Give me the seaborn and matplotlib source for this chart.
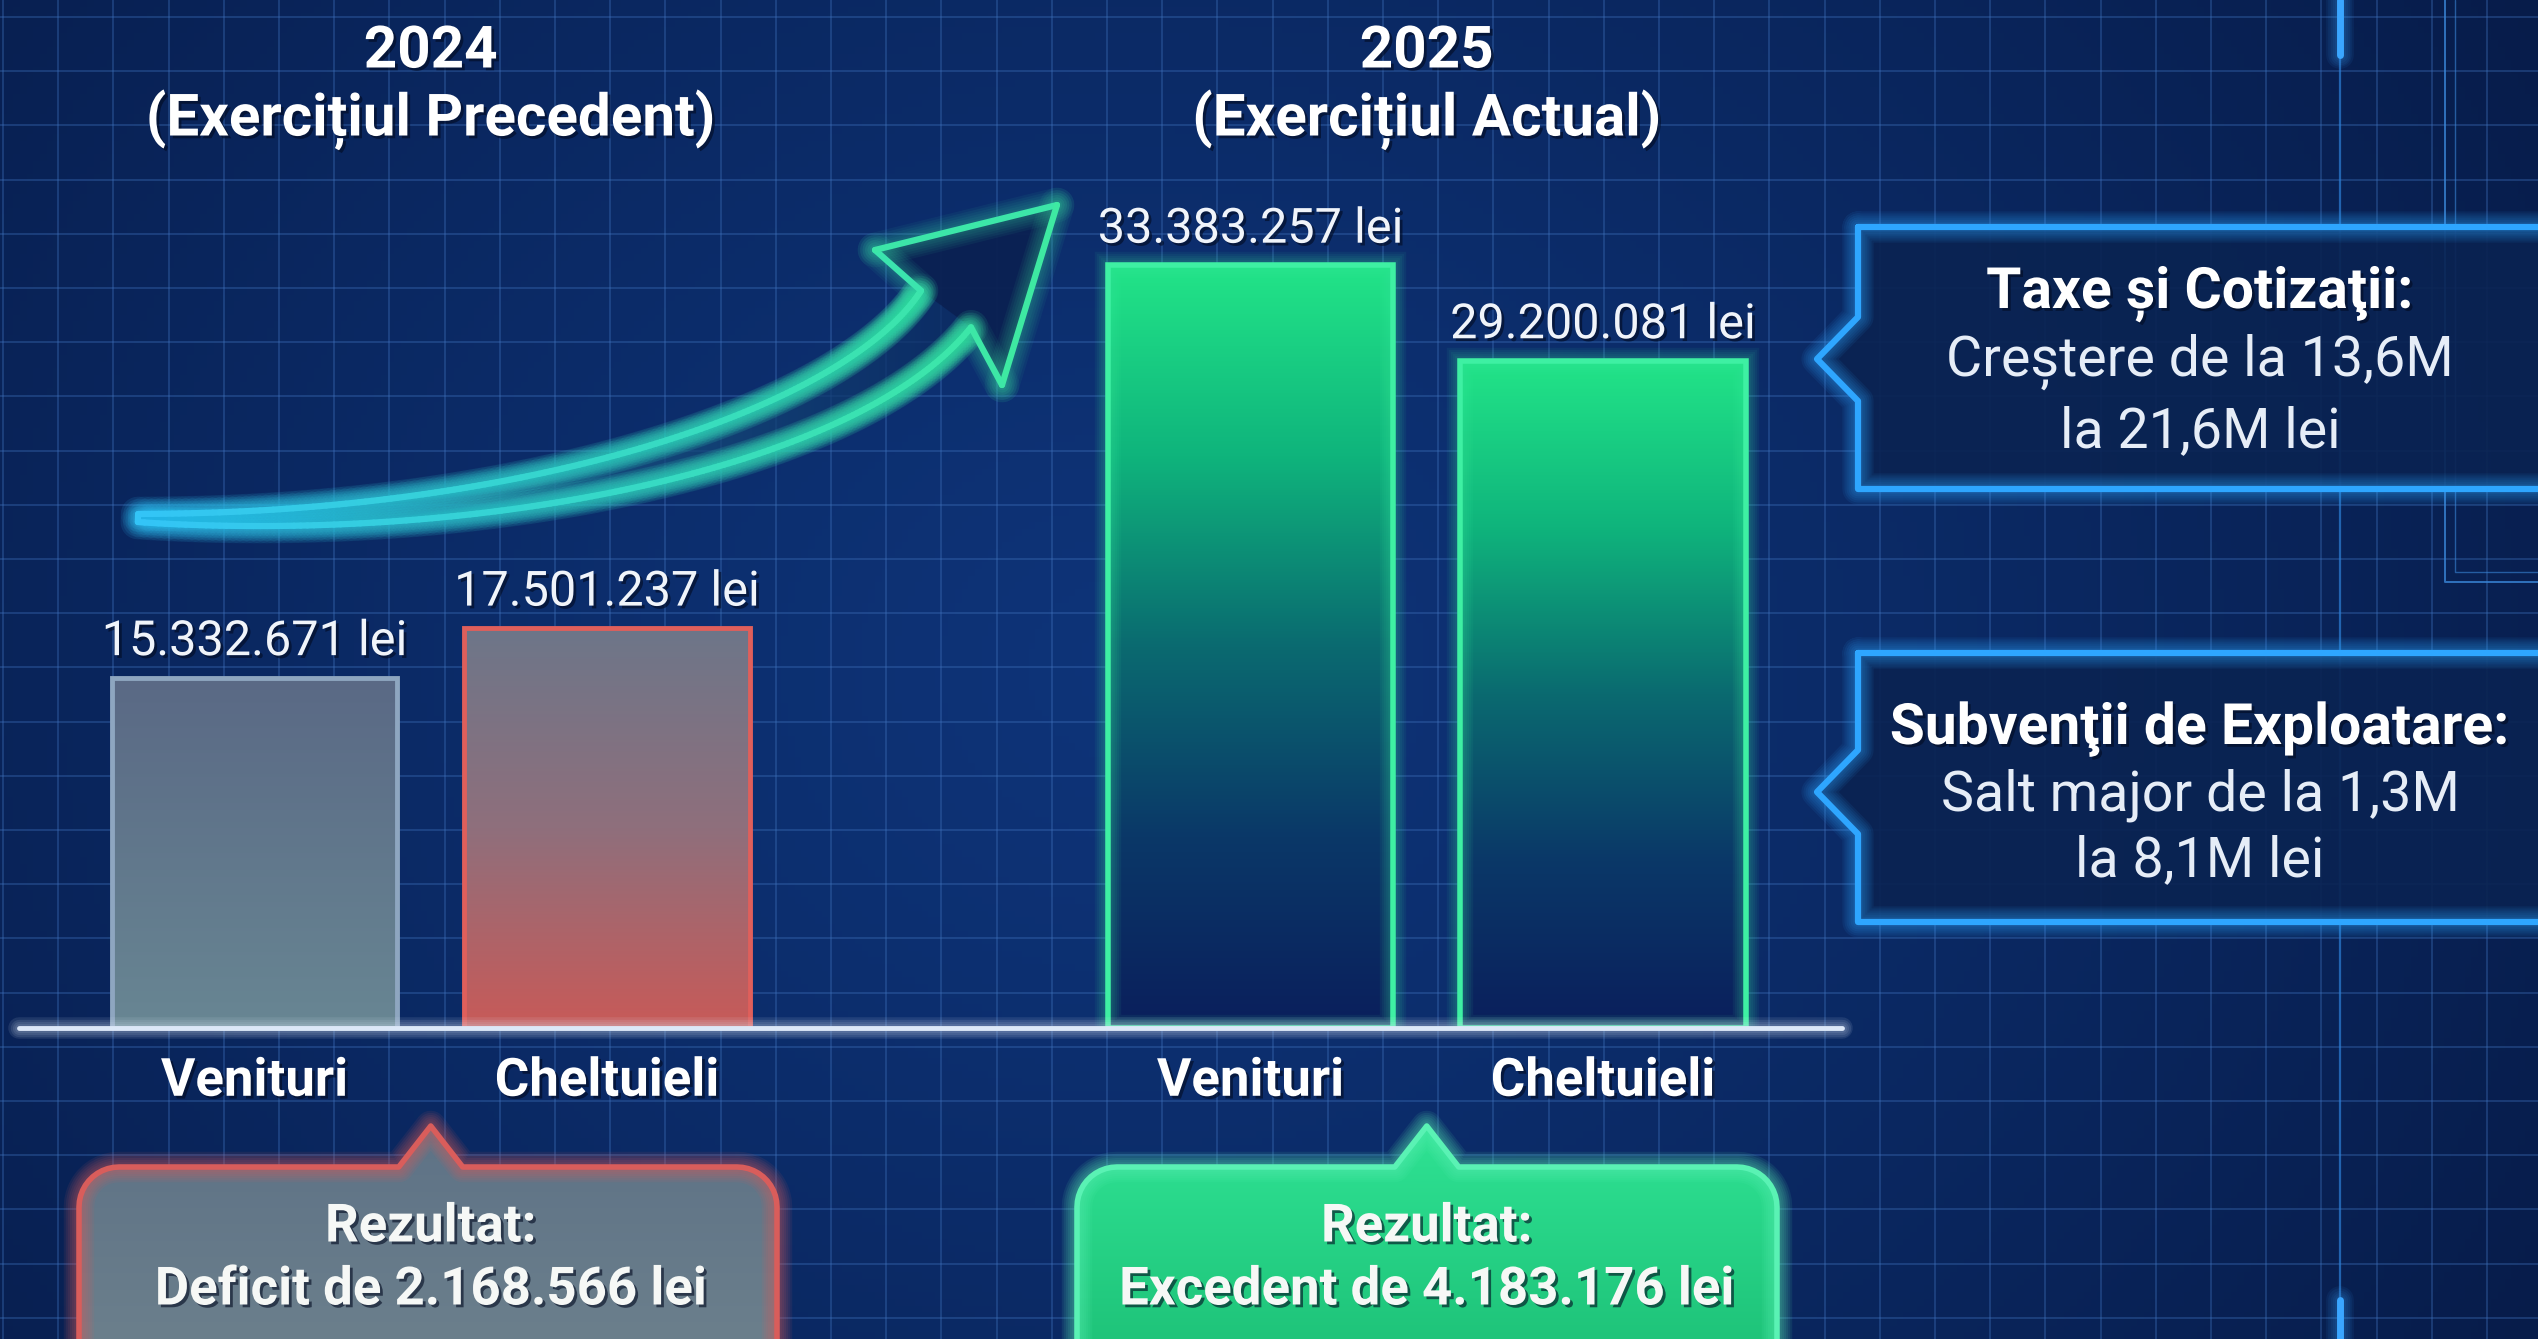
import numpy as np
import matplotlib
matplotlib.use("Agg")
import matplotlib.pyplot as plt
import matplotlib.patheffects as pe
from matplotlib.colors import LinearSegmentedColormap, to_rgb
from matplotlib.patches import Polygon, Rectangle
from matplotlib.collections import LineCollection
import seaborn as sns

# ---- date ----
categorii = ["Venituri", "Cheltuieli"]
ani = ["2024", "2025"]
exercitii = ["(Exercițiul Precedent)", "(Exercițiul Actual)"]
venituri = [15332671, 33383257]
cheltuieli = [17501237, 29200081]
caseta_titluri = ["Taxe și Cotizaţii:", "Subvenţii de Exploatare:"]
caseta_randuri = [["Creștere de la 13,6M", "la 21,6M lei"],
                  ["Salt major de la 1,3M", "la 8,1M lei"]]

# ---- layout (pixels) ----
W, H = 2538, 1339
UNIT = 352.5                 # distance between the two bars of a year
GROUP_X0 = [254.5, 1250.5]   # centre of the first bar of each year
BASE_Y = 1028
PX_PER_LEU = 22.85e-6

sns.set_style("dark")
plt.rcParams["font.family"] = ["Roboto", "DejaVu Sans"]


def lei(v):
    return f"{v:,}".replace(",", ".") + " lei"


shadow = [pe.withSimplePatchShadow(offset=(2, -2), shadow_rgbFace="#020a20", alpha=0.6)]


def glow(ax, x, y, color, lw, layers=5, step=3.0, a=0.07, z=3):
    for i in range(layers, 0, -1):
        ax.plot(x, y, color=color, lw=lw + i * step, alpha=a,
                solid_capstyle="round", solid_joinstyle="round", zorder=z)
    ax.plot(x, y, color=color, lw=lw, solid_capstyle="round",
            solid_joinstyle="round", zorder=z)


def vgrad(ax, patch, colors, extent, z, alpha=1.0):
    # colors go bottom -> top
    cmap = LinearSegmentedColormap.from_list("g", colors)
    im = ax.imshow(np.linspace(0, 1, 256).reshape(-1, 1), cmap=cmap, extent=extent,
                   aspect="auto", zorder=z, alpha=alpha, origin="lower")
    im.set_clip_path(patch)


fig = plt.figure(figsize=(W / 100, H / 100), dpi=100)
bg = fig.add_axes([0, 0, 1, 1], zorder=0)

# background
yy, xx = np.mgrid[0:1:200j, 0:1:380j]
r = np.sqrt(((xx - 0.45) * 1.6) ** 2 + (yy - 0.5) ** 2)
r = r / r.max()
c_in, c_out = np.array(to_rgb("#0e3479")), np.array(to_rgb("#071c4a"))
bg.imshow(c_in + (c_out - c_in) * r[..., None] ** 1.2, extent=[0, W, H, 0],
          aspect="auto", zorder=0)
bg.vlines(np.arange(3, W, 55.2), 0, H, color="#3f72bd", lw=1.3, alpha=0.38, zorder=1)
bg.hlines(np.arange(17, H, 54.2), 0, W, color="#3f72bd", lw=1.3, alpha=0.38, zorder=1)

# decorative circuit lines on the right
bg.plot([2340, 2340], [0, H], color="#2d7fd6", lw=1.6, alpha=0.7, zorder=2)
glow(bg, [2340, 2340], [0, 55], "#3aa6ff", 5, z=2)
glow(bg, [2340, 2340], [1300, H], "#3aa6ff", 5, z=2)
bg.plot([2445, 2445, W], [0, 582, 582], color="#3a86d8", lw=1.4, alpha=0.8, zorder=2)
bg.plot([2455, 2455, W], [0, 572, 572], color="#3a86d8", lw=1.0, alpha=0.6, zorder=2)

# ---- growth arrow ----
P0, P1, P2, P3 = map(np.array, [(138, 518), (500, 530), (850, 440), (946, 309)])
s = np.linspace(0, 1, 160)[:, None]
B = (1 - s) ** 3 * P0 + 3 * (1 - s) ** 2 * s * P1 + 3 * (1 - s) * s ** 2 * P2 + s ** 3 * P3
dB = 3 * (1 - s) ** 2 * (P1 - P0) + 6 * (1 - s) * s * (P2 - P1) + 3 * s ** 2 * (P3 - P2)
t = dB / np.linalg.norm(dB, axis=1, keepdims=True)
nrm = np.column_stack([-t[:, 1], t[:, 0]])
w = (4 + 27 * s[:, 0] ** 0.9)[:, None]
lower, upper = B + w * nrm, B - w * nrm
head = np.array([(875, 250), (1057, 205), (1002, 385)])

band = Polygon(np.vstack([upper, lower[::-1]]), closed=True, fc="none", ec="none", zorder=3)
bg.add_patch(band)
cm_band = LinearSegmentedColormap.from_list("b", ["#2a86b8", "#1a5a86", "#0c2c62"])
im = bg.imshow(np.linspace(0, 1, 256).reshape(1, -1), cmap=cm_band,
               extent=[130, 960, 560, 280], aspect="auto", zorder=3, alpha=0.75)
im.set_clip_path(band)
bg.add_patch(Polygon(np.vstack([upper[-1], head, lower[-1]]), closed=True,
                     fc="#0a2152", alpha=0.95, ec="none", zorder=3))

outline = np.vstack([upper, head, lower[::-1], upper[:1]])
segs = np.stack([outline[:-1], outline[1:]], axis=1)
xm = (segs[:, 0, 0] + segs[:, 1, 0]) / 2
cm_edge = LinearSegmentedColormap.from_list("e", ["#33c4f7", "#36d8c8", "#3eeaa0"])
cols = cm_edge((xm - 138) / (1057 - 138))
for k in range(6, 0, -1):
    bg.add_collection(LineCollection(segs, colors=cols, linewidths=4 + k * 3.5, alpha=0.06,
                                     capstyle="round", joinstyle="round", zorder=4))
bg.add_collection(LineCollection(segs, colors=cols, linewidths=4.5, capstyle="round",
                                 joinstyle="round", zorder=4))

# ---- callout boxes (right) ----
for i, (top, bottom, tip_y) in enumerate([(227, 489, 359), (653, 922, 792)]):
    left, tip_x, half, right = 1858, 1817, 42, W + 30
    verts = [(left, top), (right, top), (right, bottom), (left, bottom),
             (left, tip_y + half), (tip_x, tip_y), (left, tip_y - half), (left, top)]
    bg.add_patch(Polygon(verts, closed=True, fc="#0a2352", alpha=0.92, ec="none", zorder=5))
    vx, vy = zip(*verts)
    glow(bg, vx, vy, "#2ea6ff", 4.5, layers=6, step=3, a=0.08, z=6)
    ys = [(294, 362, 432), (729, 795, 861)][i]
    bg.text(2200, ys[0], caseta_titluri[i], ha="center", va="center", fontsize=41,
            fontweight="bold", color="white", zorder=7, path_effects=shadow)
    for y, line in zip(ys[1:], caseta_randuri[i]):
        bg.text(2200, y, line, ha="center", va="center", fontsize=40,
                color="#e6edf7", zorder=7)

# ---- year titles and result boxes ----
res_style = [
    dict(fill=["#6b7f8c", "#5e7286"], edge="#d95d5b"),
    dict(fill=["#1fc47a", "#2fe394"], edge="#5af2b4"),
]
box_x = [(79, 777), (1077, 1777)]
for i in range(2):
    cx = GROUP_X0[i] + UNIT / 2
    bg.text(cx, 52, ani[i], ha="center", va="center", fontsize=42, fontweight="bold",
            color="white", zorder=7, path_effects=shadow)
    bg.text(cx, 120, exercitii[i], ha="center", va="center", fontsize=42,
            fontweight="bold", color="white", zorder=7, path_effects=shadow)

    x0, x1 = box_x[i]
    y0, tip_y, rr, hw, yb = 1167, 1126, 40, 32, H + 60
    a1 = np.radians(np.linspace(180, 270, 12))
    a2 = np.radians(np.linspace(270, 360, 12))
    verts = ([(x0, yb)]
             + [(x0 + rr + rr * np.cos(a), y0 + rr + rr * np.sin(a)) for a in a1]
             + [(cx - hw, y0), (cx, tip_y), (cx + hw, y0)]
             + [(x1 - rr + rr * np.cos(a), y0 + rr + rr * np.sin(a)) for a in a2]
             + [(x1, yb)])
    box = Polygon(verts, closed=True, fc="none", ec="none", zorder=5)
    bg.add_patch(box)
    vgrad(bg, box, res_style[i]["fill"], [x0, x1, H, tip_y], z=5)
    vx, vy = zip(*verts)
    glow(bg, vx, vy, res_style[i]["edge"], 4, layers=6, step=3, a=0.09, z=6)

    diff = venituri[i] - cheltuieli[i]
    eticheta = "Excedent" if diff > 0 else "Deficit"
    bg.text(cx, 1227, "Rezultat:", ha="center", va="center", fontsize=38,
            fontweight="bold", color="#f6f8f6", zorder=7, path_effects=shadow)
    bg.text(cx, 1290, f"{eticheta} de {lei(abs(diff))}", ha="center", va="center",
            fontsize=38, fontweight="bold", color="#f6f8f6", zorder=7, path_effects=shadow)

bg.set_xlim(0, W)
bg.set_ylim(H, 0)
bg.axis("off")

# ---- bars ----
ymax = BASE_Y / PX_PER_LEU
bar_grad = [
    [["#688693", "#5a6985"], ["#c85a58", "#8f6f7c", "#6d7689"]],
    [["#0a1f5c", "#0b3868", "#0a6a70", "#0fb47c", "#22e488"]] * 2,
]
bar_edge = [["#8ea6c0", "#df5f5b"], ["#3ef0a3", "#3ef0a3"]]

for i in range(2):
    ax = fig.add_axes([0, (H - BASE_Y) / H, 1, BASE_Y / H], zorder=2 + i)
    vals = [venituri[i], cheltuieli[i]]
    sns.barplot(x=categorii, y=vals, ax=ax, width=0.81, color="#888888", saturation=1)
    for p, grad, ec in zip(list(ax.patches), bar_grad[i], bar_edge[i]):
        x, bw, h = p.get_x(), p.get_width(), p.get_height()
        p.set_facecolor("none")
        p.set_edgecolor(ec)
        p.set_linewidth(4 if i == 1 else 3.5)
        p.set_zorder(3)
        vgrad(ax, p, grad, [x, x + bw, 0, h], z=2)
        if i == 1:
            for k in range(1, 6):
                ax.add_patch(Rectangle((x, 0), bw, h, fill=False, ec=ec, lw=4 + k * 3,
                                       alpha=0.06, zorder=2.5))
    ax.bar_label(ax.containers[0], labels=[lei(v) for v in vals], padding=9,
                 fontsize=35, color="#f0f4fa", path_effects=shadow)
    ax.set_xlim(-GROUP_X0[i] / UNIT, (W - GROUP_X0[i]) / UNIT)
    ax.set_ylim(0, ymax)
    ax.set_xticks([0, 1])
    ax.set_xticklabels(categorii, fontsize=38, fontweight="bold", color="white")
    for lbl in ax.get_xticklabels():
        lbl.set_path_effects(shadow)
    ax.tick_params(axis="x", length=0, pad=20)
    ax.set_yticks([])
    ax.set(xlabel="", ylabel="")
    ax.grid(False)
    ax.patch.set_visible(False)
    for sp in ax.spines.values():
        sp.set_visible(False)

# baseline on top
fg = fig.add_axes([0, 0, 1, 1], zorder=10)
fg.patch.set_visible(False)
glow(fg, [19, 1842], [BASE_Y, BASE_Y], "#dce8f8", 3.5, layers=4, step=3, a=0.1)
fg.set_xlim(0, W)
fg.set_ylim(H, 0)
fg.axis("off")

fig.savefig("out.png", dpi=100)
